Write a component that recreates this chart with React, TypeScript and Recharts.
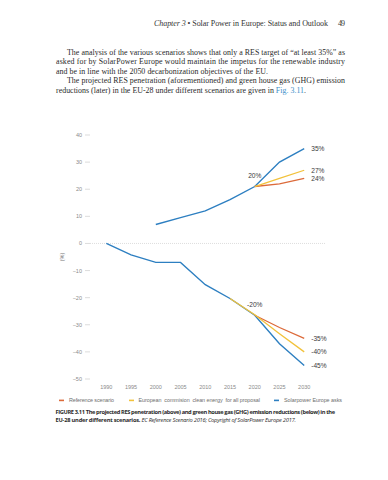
import React from 'react';
import { LineChart, Line, XAxis, YAxis, ReferenceLine, LabelList } from 'recharts';

const years = [1990, 1995, 2000, 2005, 2010, 2015, 2020, 2025, 2030];
const yTicks = [40, 30, 20, 10, 0, -10, -20, -30, -40, -50];

// RES penetration (upper)
const resReference = [null, null, null, null, null, null, 21, 22, 24];
const resCommission = [null, null, null, null, null, null, 21, 24, 27];
const resSolarPower = [null, null, 7, 9.5, 12, 16.2, 21, 30, 35];
// GHG emission reductions (lower)
const ghgReference = [null, null, null, null, null, null, -26.5, -31, -35];
const ghgCommission = [null, null, null, null, null, -20.3, -26.3, -33.3, -40];
const ghgSolarPower = [0, -4.2, -7, -7, -15.2, -20.3, -26.5, -37, -45];

// value labels
const resReferenceEnd = ['', '', '', '', '', '', '', '', '24%'];
const resCommissionEnd = ['', '', '', '', '', '', '', '', '27%'];
const resSolarPowerEnd = ['', '', '', '', '', '', '', '', '35%'];
const resSolarPowerTop = ['', '', '', '', '', '', '20%', '', ''];
const ghgReferenceEnd = ['', '', '', '', '', '', '', '', '-35%'];
const ghgCommissionEnd = ['', '', '', '', '', '', '', '', '-40%'];
const ghgSolarPowerEnd = ['', '', '', '', '', '', '', '', '-45%'];
const ghgSolarPowerTop = ['', '', '', '', '', '', '-20%', '', ''];

const seriesNames = [
  'Reference scenario',
  'European  commision  clean energy  for all proposal',
  'Solarpower Europe asks',
];
const seriesColors = ['#dc6a3a', '#f2c23b', '#2d7fc1'];

const data = years.map((year, i) => ({
  year,
  resRef: resReference[i],
  resCom: resCommission[i],
  resSp: resSolarPower[i],
  ghgRef: ghgReference[i],
  ghgCom: ghgCommission[i],
  ghgSp: ghgSolarPower[i],
  resRefEnd: resReferenceEnd[i],
  resComEnd: resCommissionEnd[i],
  resSpEnd: resSolarPowerEnd[i],
  resSpTop: resSolarPowerTop[i],
  ghgRefEnd: ghgReferenceEnd[i],
  ghgComEnd: ghgCommissionEnd[i],
  ghgSpEnd: ghgSolarPowerEnd[i],
  ghgSpTop: ghgSolarPowerTop[i],
}));

const LABEL_FONT = '"Liberation Sans", Arial, sans-serif';

const getXY = (props: any) => {
  const vb = props.viewBox || {};
  const x = props.x != null ? props.x : vb.x;
  const y = props.y != null ? props.y : vb.y;
  return { x, y };
};

const EndLabel = (props: any) => {
  const { value } = props;
  if (value == null || value === '') return null;
  const { x, y } = getXY(props);
  if (x == null || y == null) return null;
  return (
    <text x={x + 7} y={y} dy="0.35em" fontSize={6.6} fill="#3a3a3a" fontFamily={LABEL_FONT}>
      {value}
    </text>
  );
};

const TopLabel = (props: any) => {
  const { value } = props;
  if (value == null || value === '') return null;
  const { x, y } = getXY(props);
  if (x == null || y == null) return null;
  return (
    <text x={x} y={y - 11} dy="0.35em" textAnchor="middle" fontSize={6.6} fill="#3a3a3a" fontFamily={LABEL_FONT}>
      {value}
    </text>
  );
};

const fmtY = (v: number) => (v < 0 ? '\u2212' + Math.abs(v) : String(v));

const legendLayout = [
  { sx: 59, tx: 69, w: 45 },
  { sx: 129, tx: 138.5, w: 121.5 },
  { sx: 274, tx: 284, w: 58 },
];

const SERIF = '"Liberation Serif", "Times New Roman", serif';
const SANS = '"Open Sans", "Liberation Sans", sans-serif';

export default function App() {
  return (
    <div style={{ position: 'fixed', left: 0, top: 0, width: 388, height: 480, background: '#fff', overflow: 'hidden' }}>
      <div style={{ position: 'absolute', left: 0, top: 0 }}>
        <LineChart width={388} height={480} data={data} margin={{ top: 135, right: 63, bottom: 81, left: 50 }}>
          <XAxis
            type="number"
            dataKey="year"
            domain={[1986.7, 2034.2]}
            ticks={years}
            interval={0}
            axisLine={false}
            tickLine={false}
            tickSize={4}
            tickMargin={2}
            height={20}
            tick={{ fontSize: 5.5, fill: '#8a8a8a', fontFamily: LABEL_FONT }}
          />
          <YAxis
            type="number"
            domain={[-50, 40]}
            ticks={yTicks}
            interval={0}
            width={40}
            axisLine={false}
            tickLine={{ stroke: '#c4c4c4', strokeWidth: 0.6 }}
            tickSize={5}
            tickMargin={3}
            tickFormatter={fmtY}
            tick={{ fontSize: 5.5, fill: '#8a8a8a', fontFamily: LABEL_FONT }}
            label={{ value: '(%)', angle: -90, position: 'center', dx: -8, fontSize: 5.5, fill: '#777', fontFamily: LABEL_FONT }}
          />
          <ReferenceLine y={0} stroke="#cfcfcf" strokeWidth={0.7} strokeDasharray="1 1" />

          <Line dataKey="resSp" stroke={seriesColors[2]} strokeWidth={1.4} dot={false} isAnimationActive={false} connectNulls={false}>
            <LabelList dataKey="resSpEnd" content={EndLabel} />
            <LabelList dataKey="resSpTop" content={TopLabel} />
          </Line>
          <Line dataKey="resRef" stroke={seriesColors[0]} strokeWidth={1.3} dot={false} isAnimationActive={false}>
            <LabelList dataKey="resRefEnd" content={EndLabel} />
          </Line>
          <Line dataKey="resCom" stroke={seriesColors[1]} strokeWidth={1.3} dot={false} isAnimationActive={false}>
            <LabelList dataKey="resComEnd" content={EndLabel} />
          </Line>

          <Line dataKey="ghgSp" stroke={seriesColors[2]} strokeWidth={1.4} dot={false} isAnimationActive={false}>
            <LabelList dataKey="ghgSpEnd" content={EndLabel} />
            <LabelList dataKey="ghgSpTop" content={TopLabel} />
          </Line>
          <Line dataKey="ghgRef" stroke={seriesColors[0]} strokeWidth={1.3} dot={false} isAnimationActive={false}>
            <LabelList dataKey="ghgRefEnd" content={EndLabel} />
          </Line>
          <Line dataKey="ghgCom" stroke={seriesColors[1]} strokeWidth={1.3} dot={false} isAnimationActive={false}>
            <LabelList dataKey="ghgComEnd" content={EndLabel} />
          </Line>
        </LineChart>
      </div>

      <svg width={388} height={480} style={{ position: 'absolute', left: 0, top: 0, pointerEvents: 'none' }}>
        {/* running header */}
        <text x={154} y={26} fontSize={8} fill="#333" fontFamily={SERIF} textLength={174}>
          <tspan fontStyle="italic">Chapter 3</tspan>
          <tspan> • Solar Power in Europe: Status and Outlook</tspan>
        </text>
        <text x={338} y={26} fontSize={8} fill="#333" fontFamily={SERIF} textLength={7}>49</text>

        {/* body paragraph */}
        <g fontSize={7.9} fill="#2a2a2a" fontFamily={SERIF}>
          <text x={67} y={55} textLength={278}>The analysis of the various scenarios shows that only a RES target of “at least 35%” as</text>
          <text x={56} y={64.4} textLength={289}>asked for by SolarPower Europe would maintain the impetus for the renewable industry</text>
          <text x={56} y={73.6} textLength={212}>and be in line with the 2050 decarbonization objectives of the EU.</text>
          <text x={67} y={83.3} textLength={278}>The projected RES penetration (aforementioned) and green house gas (GHG) emission</text>
          <text x={56} y={92.8} textLength={250}>
            <tspan>reductions (later) in the EU-28 under different scenarios are given in </tspan>
            <tspan fill="#3d8fc9">Fig. 3.11</tspan>
            <tspan>.</tspan>
          </text>
        </g>

        {/* legend */}
        {seriesNames.map((name, i) => (
          <g key={name}>
            <rect x={legendLayout[i].sx} y={399.6} width={5} height={1.6} fill={seriesColors[i]} />
            <text
              x={legendLayout[i].tx}
              y={402.4}
              fontSize={5.4}
              fill="#6e6e6e"
              fontFamily={LABEL_FONT}
              textLength={legendLayout[i].w}
              style={{ whiteSpace: 'pre' }}
            >
              {name}
            </text>
          </g>
        ))}

        {/* caption */}
        <text x={55.5} y={414.4} fontSize={5.7} fill="#2b2b2b" fontFamily={SANS} fontWeight={700} textLength={279.5}>
          FIGURE 3.11  The projected RES penetration (above) and green house gas (GHG) emission reductions (below) in the
        </text>
        <text x={55.5} y={421.6} fontSize={5.7} fill="#2b2b2b" fontFamily={SANS} textLength={240.5}>
          <tspan fontWeight={700}>EU-28 under different scenarios. </tspan>
          <tspan fontStyle="italic">EC Reference Scenario 2016; Copyright of SolarPower Europe 2017.</tspan>
        </text>
      </svg>
    </div>
  );
}
